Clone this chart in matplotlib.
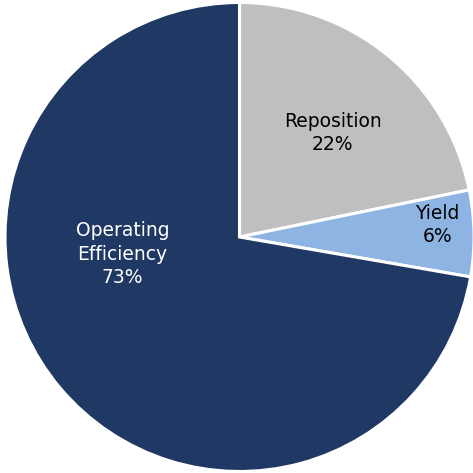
import matplotlib
matplotlib.use("Agg")
import matplotlib.pyplot as plt

labels = ["Reposition", "Yield", "Operating\nEfficiency"]
shares = [22, 6, 73]
colors = ["#BFBFBF", "#8DB4E2", "#1F3864"]
text_colors = ["#000000", "#000000", "#FFFFFF"]

# label anchor points, offset from pie centre in pixels
label_offsets = [(93, 104), (198, 12), (-117, -17)]

fig = plt.figure(figsize=(4.73, 4.73), dpi=100)
ax = fig.add_axes([0, 0, 1, 1])
ax.axis("off")

cx, cy, r = 239.5, 236.0, 234.5
ax.pie(shares, colors=colors, startangle=90, counterclock=False,
       center=(cx, cy), radius=r,
       wedgeprops=dict(edgecolor="white", linewidth=2.2))
ax.set_xlim(0, 473)
ax.set_ylim(0, 473)
ax.set_aspect("auto")

for lab, val, col, (dx, dy) in zip(labels, shares, text_colors, label_offsets):
    ax.text(cx + dx, cy + dy, f"{lab}\n{val}%", ha="center", va="center",
            color=col, fontsize=13.5, linespacing=1.3, family="DejaVu Sans")

fig.savefig("out.png", dpi=100)
